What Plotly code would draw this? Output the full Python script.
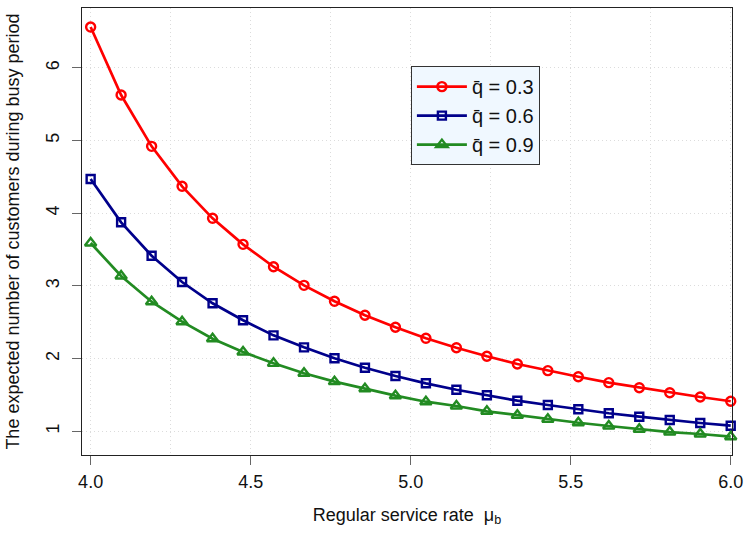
import plotly.graph_objects as go

mu_b = [4.0 + 2.0 * i / 21 for i in range(22)]
mu_b = [round(v, 4) for v in mu_b]

q03 = [6.561, 5.626, 4.920, 4.370, 3.930, 3.572, 3.264, 3.008, 2.788, 2.596, 2.431,
       2.279, 2.150, 2.032, 1.926, 1.834, 1.751, 1.669, 1.600, 1.531, 1.472, 1.413]
q06 = [4.470, 3.875, 3.415, 3.054, 2.761, 2.527, 2.320, 2.155, 2.004, 1.875, 1.761,
       1.660, 1.572, 1.495, 1.421, 1.362, 1.303, 1.248, 1.201, 1.155, 1.114, 1.077]
q09 = [3.590, 3.136, 2.783, 2.508, 2.274, 2.091, 1.935, 1.798, 1.683, 1.586, 1.490,
       1.407, 1.348, 1.275, 1.220, 1.165, 1.118, 1.073, 1.028, 0.990, 0.963, 0.926]

series_names = ["q\u0304 = 0.3", "q\u0304 = 0.6", "q\u0304 = 0.9"]
series_vals = [q03, q06, q09]
colors = ["#FF0000", "#00008B", "#228B22"]
symbols = ["circle-open", "square-open", "triangle-up-open"]
sizes = [9, 8, 10]

x_ticks = [4.0, 4.5, 5.0, 5.5, 6.0]
x_ticklabels = ["4.0", "4.5", "5.0", "5.5", "6.0"]
y_ticks = [1, 2, 3, 4, 5, 6]

FONT = "Liberation Sans, Arial, Helvetica, sans-serif"
GRID = "#dcdcdc"
TICKC = "#666666"

fig = go.Figure()
for name, vals, c, s, sz in zip(series_names, series_vals, colors, symbols, sizes):
    fig.add_trace(go.Scatter(
        x=mu_b, y=vals, name=name, mode="lines+markers",
        line=dict(color=c, width=2.7),
        marker=dict(symbol=s, size=sz, color=c, line=dict(color=c, width=2.4)),
        cliponaxis=False,
    ))

fig.update_layout(
    width=745, height=534,
    margin=dict(l=82, r=13, t=8, b=79),
    paper_bgcolor="white", plot_bgcolor="white",
    font=dict(family=FONT, size=18, color="#111111"),
    showlegend=True,
    legend=dict(
        x=0.506, y=0.87, xanchor="left", yanchor="top",
        bgcolor="#F0F8FF", bordercolor="#333333", borderwidth=1,
        font=dict(family=FONT, size=20, color="#111111"),
        itemwidth=50, tracegroupgap=0,
    ),
    xaxis=dict(
        range=[3.973, 6.004], tickvals=x_ticks, ticktext=x_ticklabels,
        ticks="outside", ticklen=9, tickcolor=TICKC, tickwidth=1,
        showline=True, linecolor="#222", linewidth=1, mirror=True,
        showgrid=True, gridcolor=GRID, griddash="1px,3px", gridwidth=1,
        minor=dict(dtick=0.25, tick0=4.0, showgrid=True, gridcolor=GRID, griddash="1px,3px", ticks=""),
        zeroline=False, automargin=False,
        ticklabelstandoff=1,
        title=dict(text="Regular service rate \u00a0\u03bc<sub>b</sub>", standoff=17,
                   font=dict(size=18)),
        tickfont=dict(size=18),
    ),
    yaxis=dict(
        range=[0.674, 6.823], tickvals=y_ticks,
        ticks="outside", ticklen=9, tickcolor=TICKC, tickwidth=1, tickangle=-90,
        showline=True, linecolor="#222", linewidth=1, mirror=True,
        showgrid=True, gridcolor=GRID, griddash="1px,3px", gridwidth=1,
        zeroline=False, automargin=False,
        ticklabelstandoff=6,
        title=dict(text="The expected number of customers during busy period", standoff=18,
                   font=dict(size=18)),
        tickfont=dict(size=18),
    ),
)

fig.write_html("out.html", config={"displayModeBar": False},
               post_script="document.body.style.margin='0px';")
